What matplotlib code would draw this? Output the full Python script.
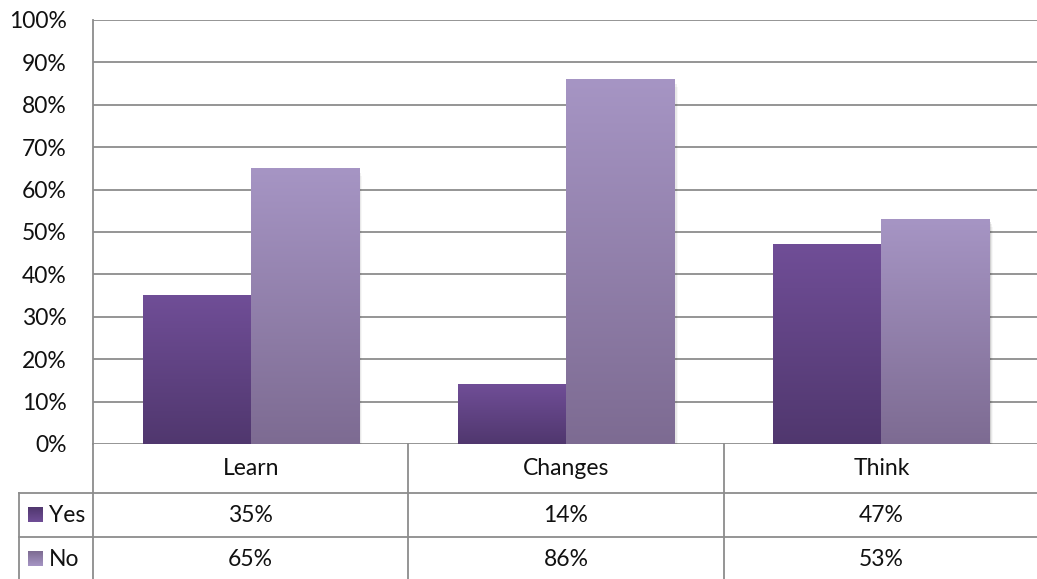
import numpy as np
import matplotlib
matplotlib.use("Agg")
import matplotlib.pyplot as plt
from matplotlib.colors import LinearSegmentedColormap
from matplotlib.patches import Rectangle

categories = ["Learn", "Changes", "Think"]
series_names = ["Yes", "No"]
yes_values = [35, 14, 47]
no_values = [65, 86, 53]
y_ticks = [0, 10, 20, 30, 40, 50, 60, 70, 80, 90, 100]

# (top colour, bottom colour) for the vertical gradient of each series
gradients = {
    "Yes": ("#704e97", "#50376e"),
    "No": ("#a695c4", "#7d6b92"),
}

plt.rcParams["font.family"] = ["Lato", "DejaVu Sans"]
LINE = "#8c8c8c"
TEXT = "#111111"

W, H = 1037, 579
fig = plt.figure(figsize=(W / 100, H / 100), dpi=100)

# plot area in pixels
left, right, top, bottom = 93, 1039, 20, 444
ax = fig.add_axes([left / W, (H - bottom) / H, (right - left) / W, (bottom - top) / H])

bar_w = 0.3425
x = np.arange(len(categories))


def vertical_cmap(name):
    top_c, bot_c = gradients[name]
    return LinearSegmentedColormap.from_list(name, [bot_c, top_c])


grad = np.linspace(0, 1, 256).reshape(-1, 1)

for name, values, offset in [("Yes", yes_values, -bar_w / 2), ("No", no_values, bar_w / 2)]:
    cmap = vertical_cmap(name)
    for xi, v in zip(x, values):
        x0 = xi + offset - bar_w / 2
        # soft drop shadow
        for k, a in enumerate([0.10, 0.06, 0.03]):
            dx = 0.004 * (k + 1)
            ax.add_patch(Rectangle((x0 + dx, -0.6 * (k + 1)), bar_w, v,
                                   facecolor="black", alpha=a, lw=0, zorder=2))
        ax.imshow(grad, extent=[x0, x0 + bar_w, 0, v], origin="lower",
                  aspect="auto", cmap=cmap, zorder=3, interpolation="bilinear")

ax.set_xlim(-0.5, len(categories) - 0.5)
ax.set_ylim(0, 100)
ax.set_yticks(y_ticks)
ax.set_yticklabels([f"{t}%" for t in y_ticks], fontsize=16.5, color=TEXT)
ax.tick_params(axis="y", length=0, pad=19)
ax.set_xticks([])
ax.yaxis.grid(True, color=LINE, linewidth=1.3, zorder=1)
ax.set_axisbelow(True)
for side in ["top", "right", "bottom"]:
    ax.spines[side].set_visible(False)
ax.spines["left"].set_color(LINE)
ax.spines["left"].set_linewidth(1.3)

# data table below the plot, rows measured in pixels from the axis line
row_edges = [0, 49, 93, 137]
px = len(categories) / (right - left)  # category units per pixel
label_col = -74 * px
tab = fig.add_axes([left / W, (H - bottom - row_edges[-1]) / H,
                    (right - left) / W, row_edges[-1] / H])
tab.axis("off")

bounds = np.arange(len(categories) + 1) - 0.5
for b in bounds:
    tab.plot([b, b], [0, row_edges[-1]], color=LINE, lw=1.3, clip_on=False)
for r in row_edges[1:]:
    tab.plot([bounds[0] + label_col, bounds[-1]], [r, r], color=LINE, lw=1.3, clip_on=False)
tab.plot([bounds[0] + label_col] * 2, [row_edges[1], row_edges[-1]],
         color=LINE, lw=1.3, clip_on=False)

text_kw = dict(ha="center", va="center", fontsize=16.5, color=TEXT)
for xi, cat in zip(x, categories):
    tab.text(xi, (row_edges[0] + row_edges[1]) / 2, cat, **text_kw)

swatch_w = 15 * px
for i, (name, values) in enumerate(zip(series_names, [yes_values, no_values])):
    yc = (row_edges[i + 1] + row_edges[i + 2]) / 2
    for xi, v in zip(x, values):
        tab.text(xi, yc, f"{v}%", **text_kw)
    sx0 = bounds[0] + label_col + 9 * px
    tab.imshow(grad, extent=[sx0, sx0 + swatch_w, yc + 7.5, yc - 7.5], origin="upper",
               aspect="auto", cmap=vertical_cmap(name), clip_on=False, zorder=3)
    tab.text(sx0 + swatch_w + 6 * px, yc, name,
             ha="left", va="center", fontsize=16.5, color=TEXT)

tab.set_xlim(-0.5, len(categories) - 0.5)
tab.set_ylim(row_edges[-1], 0)

fig.savefig("out.png", dpi=100)
